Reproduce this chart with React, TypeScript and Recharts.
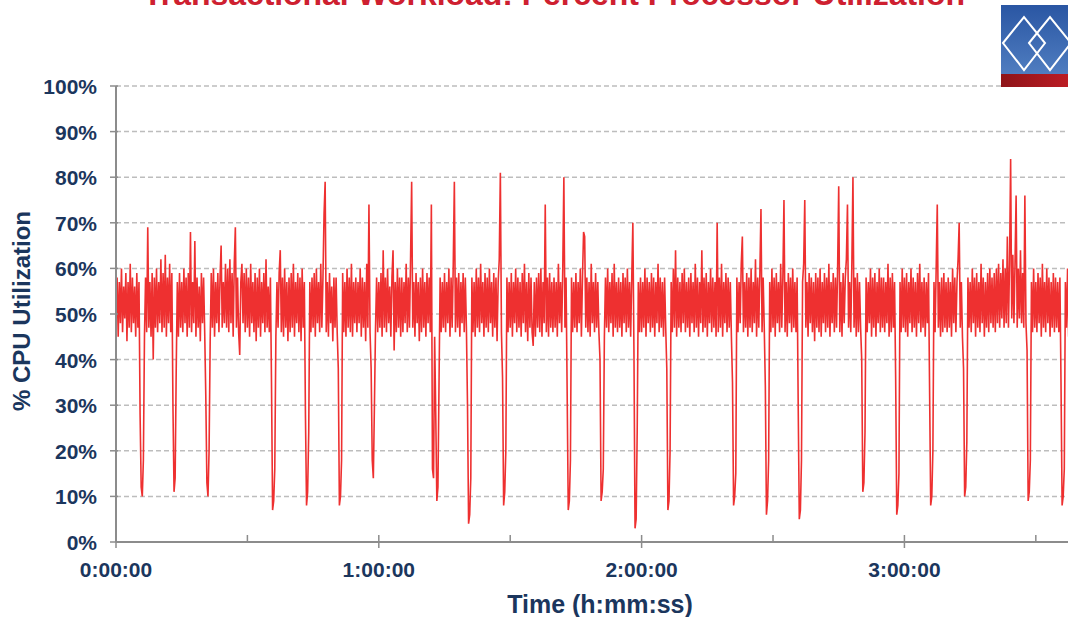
import { LineChart, Line, XAxis, YAxis, CartesianGrid } from 'recharts';

// perfmon sampled every 15 s, values in % CPU, one array per half hour
const SAMPLE_MINUTES = 0.25;

const cpu000 = [
  47, 58, 45, 57, 48, 60, 46, 56, 49, 59, 44, 57, 47, 61, 46, 58, 48, 56, 45, 59,
  47, 57, 28, 12, 10, 18, 45, 58, 46, 69, 47, 57, 45, 59, 40, 58, 47, 60, 46, 57,
  48, 62, 46, 59, 47, 63, 45, 58, 48, 61, 46, 59, 30, 11, 14, 38, 57, 45, 59, 47,
  57, 46, 60, 48, 58, 45, 59, 47, 68, 46, 57, 48, 66, 45, 58, 47, 56, 44, 59, 48,
  58, 46, 32, 13, 10, 20, 44, 59, 47, 60, 45, 57, 48, 59, 46, 58, 65, 47, 57, 48,
  61, 47, 60, 46, 62, 48, 59, 45, 61, 69, 47, 58, 46, 41, 57, 61, 48, 59, 46, 60,
];
const cpu030 = [
  47, 58, 45, 61, 48, 57, 46, 59, 44, 58, 47, 60, 45, 57, 48, 59, 46, 62, 47, 56,
  46, 58, 35, 7, 9, 16, 45, 57, 47, 59, 64, 46, 58, 45, 60, 47, 57, 44, 58, 46,
  59, 47, 61, 45, 57, 48, 59, 46, 58, 44, 60, 47, 57, 28, 8, 11, 24, 57, 46, 58,
  47, 59, 45, 60, 48, 57, 46, 61, 47, 58, 72, 79, 46, 57, 45, 59, 48, 56, 44, 58,
  47, 58, 46, 38, 8, 10, 18, 59, 46, 57, 45, 60, 47, 58, 46, 61, 45, 57, 48, 58,
  46, 57, 48, 60, 45, 58, 47, 57, 44, 61, 47, 74, 46, 38, 18, 14, 30, 47, 58, 46,
];
const cpu060 = [
  57, 47, 59, 45, 64, 47, 58, 46, 60, 48, 56, 45, 58, 64, 42, 57, 46, 60, 47, 58,
  45, 58, 46, 57, 48, 61, 46, 58, 47, 62, 79, 47, 57, 45, 59, 48, 57, 44, 58, 46,
  60, 47, 57, 45, 59, 48, 58, 46, 74, 16, 14, 45, 28, 9, 12, 35, 58, 46, 57, 47,
  59, 46, 57, 48, 60, 45, 58, 47, 61, 79, 46, 58, 47, 59, 45, 57, 48, 59, 46, 58,
  47, 30, 4, 6, 14, 58, 46, 57, 45, 60, 47, 58, 46, 61, 48, 57, 45, 59, 47, 58,
  46, 60, 48, 57, 45, 59, 47, 58, 44, 57, 62, 81, 46, 36, 8, 11, 20, 58, 46, 57,
];
const cpu090 = [
  47, 59, 45, 57, 48, 60, 46, 58, 47, 57, 45, 59, 48, 61, 46, 57, 44, 59, 47, 58,
  46, 43, 57, 45, 58, 47, 59, 46, 60, 45, 57, 48, 74, 46, 58, 45, 59, 47, 57, 46,
  58, 47, 57, 45, 61, 48, 57, 46, 60, 80, 47, 58, 33, 7, 9, 18, 58, 46, 57, 47,
  59, 46, 57, 48, 60, 45, 58, 68, 67, 47, 58, 46, 57, 45, 61, 48, 57, 46, 59, 47,
  57, 46, 40, 9, 11, 16, 45, 58, 47, 60, 46, 57, 48, 59, 45, 61, 47, 57, 46, 58,
  47, 57, 45, 59, 48, 58, 46, 60, 47, 57, 45, 58, 70, 42, 3, 5, 25, 57, 46, 58,
];
const cpu120 = [
  46, 57, 47, 60, 45, 58, 48, 57, 46, 59, 47, 58, 45, 57, 48, 61, 46, 58, 47, 57,
  45, 58, 47, 38, 7, 9, 20, 57, 46, 60, 47, 64, 45, 58, 47, 57, 46, 59, 48, 60,
  46, 57, 47, 58, 45, 59, 48, 57, 46, 61, 47, 58, 45, 57, 48, 64, 46, 58, 47, 59,
  45, 57, 48, 60, 46, 58, 47, 57, 45, 70, 46, 58, 47, 61, 45, 57, 48, 59, 46, 58,
  47, 57, 45, 35, 8, 10, 15, 58, 46, 57, 48, 61, 67, 46, 57, 47, 59, 45, 58, 47,
  60, 46, 57, 48, 62, 45, 58, 47, 59, 73, 46, 58, 47, 34, 6, 9, 18, 57, 46, 60,
];
const cpu150 = [
  47, 58, 45, 59, 48, 57, 46, 61, 47, 58, 75, 46, 57, 45, 59, 48, 58, 46, 60, 47,
  57, 46, 58, 30, 5, 7, 18, 57, 61, 75, 47, 57, 45, 59, 48, 58, 46, 57, 44, 59,
  47, 58, 46, 60, 45, 57, 48, 59, 46, 58, 47, 61, 45, 57, 48, 59, 46, 58, 47, 60,
  78, 46, 57, 45, 59, 48, 58, 62, 74, 47, 57, 46, 61, 80, 47, 58, 45, 59, 46, 57,
  47, 40, 11, 13, 24, 58, 46, 57, 48, 60, 45, 58, 47, 59, 45, 57, 48, 60, 46, 58,
  47, 58, 46, 57, 48, 61, 45, 58, 46, 59, 47, 57, 36, 6, 8, 15, 57, 46, 60, 47,
];
const cpu180 = [
  58, 46, 59, 45, 57, 48, 60, 46, 58, 47, 57, 45, 59, 48, 61, 46, 57, 47, 58, 45,
  57, 48, 59, 33, 8, 10, 20, 57, 46, 60, 74, 47, 57, 45, 58, 46, 59, 47, 57, 46,
  58, 47, 57, 45, 60, 48, 58, 46, 57, 62, 70, 47, 57, 45, 38, 10, 12, 22, 58, 47,
  57, 46, 60, 48, 58, 45, 59, 47, 57, 46, 61, 48, 58, 45, 57, 47, 59, 46, 60, 48,
  58, 47, 59, 46, 60, 48, 61, 47, 59, 49, 62, 47, 60, 48, 67, 47, 61, 84, 49, 63,
  48, 61, 76, 47, 60, 49, 64, 48, 59, 47, 76, 48, 42, 9, 11, 18, 57, 46, 60, 47,
];
const cpu210 = [
  57, 46, 59, 48, 58, 45, 61, 47, 57, 46, 60, 48, 58, 45, 57, 47, 59, 46, 58, 47,
  57, 46, 58, 35, 8, 10, 16, 57, 47, 60, 45, 58, 47, 59, 46, 57, 48, 58, 45, 57,
  46, 59, 47, 58, 46,
];

const segments = [
  { start: 0, values: cpu000 },
  { start: 30, values: cpu030 },
  { start: 60, values: cpu060 },
  { start: 90, values: cpu090 },
  { start: 120, values: cpu120 },
  { start: 150, values: cpu150 },
  { start: 180, values: cpu180 },
  { start: 210, values: cpu210 },
];

const data = segments.flatMap((seg) =>
  seg.values.map((v, i) => ({ t: seg.start + i * SAMPLE_MINUTES, cpu: v }))
);

const xTicks = [0, 30, 60, 90, 120, 150, 180, 210];
const yTicks = [0, 10, 20, 30, 40, 50, 60, 70, 80, 90, 100];

const NAVY = '#1B365D';
const AXIS = '#8C8C8C';
const FONT = '"Liberation Sans", Arial, sans-serif';

function fmtTime(min: number) {
  const h = Math.floor(min / 60);
  const m = min % 60;
  return `${h}:${String(m).padStart(2, '0')}:00`;
}

function XTick({ x, y, payload }: any) {
  const major = payload.value % 60 === 0;
  return (
    <g>
      <line x1={x} x2={x} y1={y - 7} y2={major ? y + 6 : y} stroke={AXIS} strokeWidth={1.5} />
      {major && (
        <text x={x} y={y + 35} textAnchor="middle" fill={NAVY} fontSize={21} fontWeight="bold" fontFamily={FONT}>
          {fmtTime(payload.value)}
        </text>
      )}
    </g>
  );
}

function YTick({ x, y, payload }: any) {
  return (
    <g>
      <line x1={x - 6} x2={x + 2} y1={y} y2={y} stroke={AXIS} strokeWidth={1.5} />
      <text x={x - 19} y={y + 8} textAnchor="end" fill={NAVY} fontSize={21} fontWeight="bold" fontFamily={FONT}>
        {`${payload.value}%`}
      </text>
    </g>
  );
}

export default function App() {
  return (
    <div style={{ position: 'fixed', left: 0, top: 0, width: 1068, height: 617, overflow: 'hidden', background: '#fff' }}>
      <LineChart width={1100} height={617} data={data} margin={{ top: 86, right: 16, left: 0, bottom: 0 }}>
        <CartesianGrid vertical={false} stroke="#BDBDBD" strokeWidth={1.5} strokeDasharray="5 3" />
        <XAxis
          dataKey="t"
          type="number"
          domain={[0, 221]}
          ticks={xTicks}
          height={75}
          tickSize={0}
          tickMargin={0}
          tickLine={false}
          tick={<XTick />}
          stroke={AXIS}
          strokeWidth={2}
          interval={0}
        />
        <YAxis
          domain={[0, 100]}
          ticks={yTicks}
          width={116}
          tickSize={0}
          tickMargin={0}
          tickLine={false}
          tick={<YTick />}
          stroke={AXIS}
          strokeWidth={2}
          interval={0}
        />
        <Line
          dataKey="cpu"
          type="linear"
          stroke="#EE3030"
          strokeWidth={1.6}
          dot={false}
          isAnimationActive={false}
        />
      </LineChart>
      <svg width={1068} height={617} style={{ position: 'absolute', left: 0, top: 0, pointerEvents: 'none' }}>
        <defs>
          <linearGradient id="logoBlue" x1="0" y1="0" x2="0" y2="1">
            <stop offset="0%" stopColor="#2A56A3" />
            <stop offset="100%" stopColor="#4F7DC0" />
          </linearGradient>
          <linearGradient id="logoRed" x1="0" y1="0" x2="1" y2="0">
            <stop offset="0%" stopColor="#8E1418" />
            <stop offset="100%" stopColor="#C41E26" />
          </linearGradient>
        </defs>
        <text x={554} y={5} textAnchor="middle" fill="#CE2030" fontSize={32} fontWeight="bold" fontFamily={FONT} textLength={822}>
          Transactional Workload: Percent Processor Utilization
        </text>
        <rect x={1001} y={5} width={80} height={69} fill="url(#logoBlue)" />
        <rect x={1001} y={74} width={80} height={13} fill="url(#logoRed)" />
        <polygon points="1003,43 1024,17 1045,43 1024,70" fill="none" stroke="#fff" strokeWidth={2} />
        <polygon points="1029,43 1050,17 1071,43 1050,70" fill="none" stroke="#fff" strokeWidth={2} />
        <text
          x={30}
          y={311}
          transform="rotate(-90 30 311)"
          textAnchor="middle"
          fill={NAVY}
          fontSize={24}
          fontWeight="bold"
          fontFamily={FONT}
        >
          % CPU Utilization
        </text>
        <text x={600} y={613} textAnchor="middle" fill={NAVY} fontSize={25} fontWeight="bold" fontFamily={FONT}>
          Time (h:mm:ss)
        </text>
      </svg>
    </div>
  );
}
